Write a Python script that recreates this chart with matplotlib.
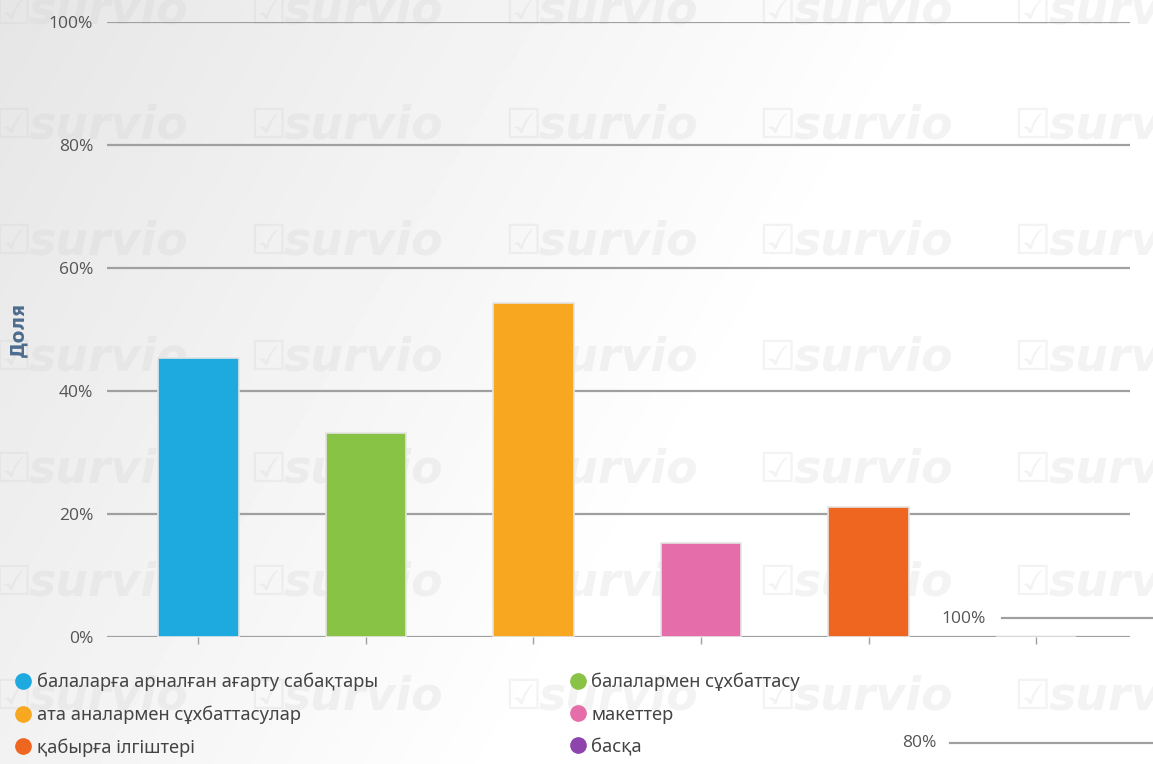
import numpy as np
import matplotlib.pyplot as plt
from matplotlib.lines import Line2D

categories = ['балаларға арналған ағарту сабақтары', 'балалармен сұхбаттасу',
              'ата аналармен сұхбаттасулар', 'макеттер',
              'қабырға ілгіштері', 'басқа']
shares = [45.4, 33.2, 54.3, 15.3, 21.1, 0.0]
colors = ['#1ea9df', '#88c345', '#f8a720', '#e56da9', '#ef6621', '#8e44ad']
yticks = [0, 20, 40, 60, 80, 100]
ytick_labels = ['0%', '20%', '40%', '60%', '80%', '100%']

plt.rcParams['font.family'] = ['Open Sans', 'DejaVu Sans']

fig = plt.figure(figsize=(11.53, 7.64), dpi=100)

# background: grey at top-left fading to white
bg = fig.add_axes([0, 0, 1, 1], zorder=-10)
gx, gy = np.meshgrid(np.linspace(0, 1, 300), np.linspace(1, 0, 200))
shade = np.clip(1 - (gx * 0.9 + (1 - gy) * 0.35) / 0.75, 0, 1)
bg.imshow(0.90 + 0.10 * (1 - shade), cmap='gray', vmin=0, vmax=1,
          extent=[0, 1, 0, 1], aspect='auto', interpolation='bilinear')
bg.set_axis_off()

# survio watermark grid
for wy in [0.985, 0.835, 0.683, 0.532, 0.385, 0.237, 0.088]:
    for wx in [-0.005, 0.216, 0.437, 0.658, 0.879]:
        fig.text(wx, wy, '☑', fontsize=30, color='#d0d0d0', alpha=0.25,
                 va='center', ha='left', family='DejaVu Sans', zorder=-5)
        fig.text(wx + 0.03, wy, 'survio', fontsize=33, color='#d0d0d0', alpha=0.25,
                 fontweight='bold', style='italic', va='center', ha='left',
                 family='DejaVu Sans', zorder=-5)

ax = fig.add_axes([0.0928, 0.1662, 0.8872, 0.805])
ax.patch.set_alpha(0)
x = np.arange(len(categories))
ax.bar(x, shares, width=0.48, color=colors, edgecolor='#e4e4e4', linewidth=1.2, zorder=3)

ax.set_xlim(-0.545, 5.56)
ax.set_ylim(0, 100)
ax.set_yticks(yticks)
ax.set_yticklabels(ytick_labels)
ax.set_xticks(x)
ax.set_xticklabels([''] * len(x))
ax.yaxis.grid(True, color='#a0a0a0', linewidth=1.6)
ax.set_axisbelow(True)
for s in ax.spines.values():
    s.set_visible(False)
ax.tick_params(axis='y', length=0, pad=10, labelsize=12.5, labelcolor='#555555')
ax.tick_params(axis='x', length=5, width=1, color='#a0a0a0', direction='out')
ax.set_ylabel('Доля', fontsize=13.5, fontweight='bold', color='#4d6d8e',
              family='DejaVu Sans')
ax.yaxis.set_label_coords(-0.078, 0.50)

# legend laid out row by row
order = [0, 2, 4, 1, 3, 5]
handles = [Line2D([], [], marker='o', linestyle='', markersize=11,
                  markerfacecolor=colors[i], markeredgecolor=colors[i]) for i in order]
fig.legend(handles, [categories[i] for i in order], ncol=2, loc='upper left',
           bbox_to_anchor=(0.0055, 0.129), frameon=False,
           labelcolor='#444444', handletextpad=0.25, handlelength=1.0,
           columnspacing=10.4, labelspacing=0.78, borderaxespad=0,
           prop={'family': ['Noto Sans', 'DejaVu Sans'], 'size': 13.2})

# overlapping fragment of another chart at the bottom right
fig.text(0.855, 0.190, '100%', fontsize=12.5, color='#555555', ha='right', va='center')
fig.add_artist(Line2D([0.869, 1.0], [0.191, 0.191], color='#a0a0a0', linewidth=1.6))
fig.text(0.812, 0.028, '80%', fontsize=12.5, color='#555555', ha='right', va='center')
fig.add_artist(Line2D([0.824, 1.0], [0.027, 0.027], color='#a0a0a0', linewidth=1.6))

fig.savefig('out.png', dpi=100)
